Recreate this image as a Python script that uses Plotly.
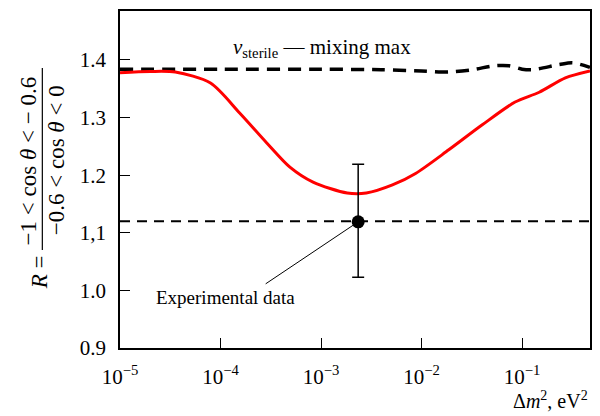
import numpy as np
import plotly.graph_objects as go

# ---- data (log10 of Δm² in eV², R) ----
red_logx = [-5.0, -4.7, -4.45, -4.1, -3.81, -3.54, -3.31, -3.08, -2.74, -2.55,
            -2.29, -2.06, -1.73, -1.40, -1.07, -0.83, -0.57, -0.325]
red_r = [1.378, 1.380, 1.379, 1.360, 1.308, 1.256, 1.214, 1.188, 1.169, 1.169,
         1.183, 1.203, 1.244, 1.287, 1.327, 1.344, 1.369, 1.381]

sterile_logx = [-5.0, -4.0, -3.0, -2.4, -2.0, -1.73, -1.5, -1.27, -1.13, -1.0,
                -0.9, -0.63, -0.5, -0.34, -0.325]
sterile_r = [1.384, 1.384, 1.384, 1.383, 1.381, 1.379, 1.383, 1.390, 1.390, 1.384,
             1.383, 1.392, 1.395, 1.388, 1.387]

exp_x = [10 ** -2.631]
exp_r = [1.119]
exp_err_plus = [0.100]
exp_err_minus = [0.096]
exp_level = 1.12

ytick_vals = [0.9, 1.0, 1.1, 1.2, 1.3, 1.4]
ytick_text = ["0.9", "1.0", "1,1", "1.2", "1.3", "1.4"]
xtick_vals = [1e-5, 1e-4, 1e-3, 1e-2, 1e-1]
xtick_text = ["10<sup>−5</sup>", "10<sup>−4</sup>", "10<sup>−3</sup>",
              "10<sup>−2</sup>", "10<sup>−1</sup>"]

SERIF = "Liberation Serif, Times New Roman, serif"

fig = go.Figure()

fig.add_hline(y=exp_level, line=dict(color="black", width=2, dash="10px,7px"))

fig.add_trace(go.Scatter(
    x=[10 ** v for v in sterile_logx], y=sterile_r, mode="lines",
    line=dict(color="black", width=3.5, dash="13px,8px", shape="spline", smoothing=0.8),
    showlegend=False))

fig.add_trace(go.Scatter(
    x=[10 ** v for v in red_logx], y=red_r, mode="lines",
    line=dict(color="#ff0000", width=3, shape="spline", smoothing=0.8),
    showlegend=False))

fig.add_trace(go.Scatter(
    x=exp_x, y=exp_r, mode="markers",
    marker=dict(color="black", size=13),
    error_y=dict(type="data", array=exp_err_plus, arrayminus=exp_err_minus,
                 color="black", thickness=1.5, width=6),
    showlegend=False))

# leader line for experimental data
fig.add_annotation(x=np.log10(exp_x[0]), y=exp_r[0], xref="x", yref="y",
                   text="", showarrow=True, arrowhead=0, arrowwidth=1,
                   arrowcolor="black", ax=-94, ay=63, standoff=5)
fig.add_annotation(x=np.log10(exp_x[0]), y=exp_r[0], xref="x", yref="y",
                   text="Experimental data", showarrow=False,
                   xshift=-133, yshift=-76,
                   font=dict(family=SERIF, size=19, color="black"))

fig.add_annotation(x=-3.9, y=1.421, xref="x", yref="y", xanchor="left",
                   text="<i>ν</i><sub>sterile</sub> — mixing max", showarrow=False,
                   font=dict(family=SERIF, size=21, color="black"))

# x-axis title
fig.add_annotation(x=1.0, y=-0.155, xref="paper", yref="paper",
                   xanchor="right", yanchor="middle",
                   text="Δ<i>m</i><sup>2</sup>, eV<sup>2</sup>", showarrow=False,
                   font=dict(family=SERIF, size=20, color="black"))

# y-axis title as rotated fraction
L, W, T, H = 120, 472, 11, 337
def px(xp):
    return (xp - L) / W
def py(yp):
    return (T + H - yp) / H

fig.add_annotation(x=px(28), y=py(161), xref="paper", yref="paper",
                   xanchor="center", yanchor="middle",
                   text="−1 < cos <i>θ</i> < − 0.6", textangle=-90, showarrow=False,
                   font=dict(family=SERIF, size=23, color="black"))
fig.add_annotation(x=px(57), y=py(160), xref="paper", yref="paper",
                   xanchor="center", yanchor="middle",
                   text="−0.6 < cos <i>θ</i> < 0", textangle=-90, showarrow=False,
                   font=dict(family=SERIF, size=23, color="black"))
fig.add_annotation(x=px(39), y=py(272), xref="paper", yref="paper",
                   xanchor="center", yanchor="middle",
                   text="<i>R</i> =", textangle=-90, showarrow=False,
                   font=dict(family=SERIF, size=23, color="black"))
fig.add_shape(type="line", xref="paper", yref="paper",
              x0=px(42), x1=px(42), y0=py(68), y1=py(250),
              line=dict(color="black", width=1.2))

fig.update_xaxes(type="log", range=[-5, -0.325],
                 tickvals=xtick_vals, ticktext=xtick_text,
                 ticks="inside", ticklen=10, tickwidth=1.2, tickcolor="black",
                 showline=True, linecolor="black", linewidth=1.5, mirror=True,
                 showgrid=False, zeroline=False, ticklabelstandoff=9,
                 tickfont=dict(family=SERIF, size=21, color="black"))
fig.update_yaxes(range=[0.9, 1.485],
                 tickvals=ytick_vals, ticktext=ytick_text,
                 ticks="inside", ticklen=10, tickwidth=1.2, tickcolor="black",
                 showline=True, linecolor="black", linewidth=1.5, mirror=True,
                 showgrid=False, zeroline=False, ticklabelstandoff=8,
                 tickfont=dict(family=SERIF, size=21, color="black"))

fig.update_layout(width=600, height=416,
                  margin=dict(l=L, r=600 - L - W, t=T, b=416 - T - H),
                  paper_bgcolor="white", plot_bgcolor="white")

fig.write_html("out.html")
